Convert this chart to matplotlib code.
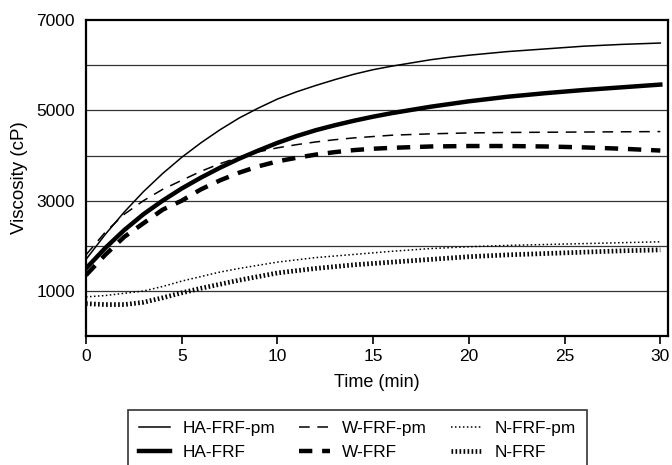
import matplotlib
matplotlib.use("Agg")
from matplotlib import pyplot as plt

plt.rcParams['font.family'] = ['Liberation Sans', 'DejaVu Sans']

# time points (min)
t = [0, 1, 2, 3, 4, 5, 6, 7, 8, 9, 10, 11, 12, 13, 14, 15, 16, 17, 18, 19, 20,
     22, 24, 26, 28, 30]

# viscosity (cP)
ha_frf_pm = [1700, 2250, 2750, 3200, 3600, 3960, 4280, 4570, 4830, 5050, 5250,
             5410, 5550, 5680, 5800, 5900, 5980, 6050, 6120, 6175, 6220,
             6300, 6360, 6420, 6460, 6490]
ha_frf = [1500, 1950, 2350, 2700, 3000, 3270, 3510, 3730, 3930, 4110, 4280,
          4430, 4560, 4670, 4770, 4860, 4940, 5010, 5080, 5140, 5200,
          5300, 5380, 5450, 5510, 5570]
w_frf_pm = [1800, 2300, 2700, 3000, 3250, 3450, 3650, 3820, 3960, 4080, 4170,
            4240, 4300, 4350, 4390, 4420, 4450, 4465, 4480, 4490, 4500,
            4510, 4515, 4520, 4525, 4530]
w_frf = [1350, 1800, 2200, 2500, 2800, 3000, 3250, 3450, 3620, 3760, 3870,
         3950, 4020, 4075, 4120, 4150, 4170, 4185, 4200, 4205, 4210,
         4210, 4200, 4180, 4150, 4110]
n_frf_pm = [870, 900, 950, 1000, 1100, 1220, 1320, 1420, 1500, 1570, 1640,
            1690, 1740, 1775, 1810, 1845, 1880, 1910, 1940, 1960, 1980,
            2010, 2030, 2050, 2070, 2090]
n_frf = [720, 700, 700, 750, 850, 960, 1060, 1150, 1240, 1320, 1400,
         1450, 1500, 1540, 1580, 1610, 1640, 1670, 1700, 1730, 1760,
         1800, 1830, 1860, 1890, 1910]

fig = plt.figure(figsize=(6.72, 4.65), dpi=100)
ax = fig.add_axes([0.128, 0.277, 0.866, 0.68])

for y in range(1000, 7000, 1000):
    ax.axhline(y, color='#333333', lw=0.9, zorder=1)

ax.plot(t, ha_frf_pm, color='k', lw=1.1, label='HA-FRF-pm')
ax.plot(t, ha_frf, color='k', lw=3.2, label='HA-FRF')
ax.plot(t, w_frf_pm, color='k', lw=1.1, linestyle=(0, (7, 5)), label='W-FRF-pm')
ax.plot(t, w_frf, color='k', lw=3.2, linestyle=(0, (3, 2.2)), label='W-FRF')
ax.plot(t, n_frf_pm, color='k', lw=1.1, linestyle=(0, (1, 1.6)), label='N-FRF-pm')
ax.plot(t, n_frf, color='k', lw=3.4, linestyle=(0, (0.35, 0.5)), label='N-FRF')

ax.set_xlim(0, 30.4)
ax.set_ylim(0, 7000)
ax.set_xticks([0, 5, 10, 15, 20, 25, 30])
ax.set_yticks([1000, 3000, 5000, 7000])
ax.tick_params(axis='y', length=0, labelsize=12.5, pad=8)
ax.tick_params(axis='x', length=6, width=1.2, labelsize=12.5, direction='out')
for s in ax.spines.values():
    s.set_linewidth(1.6)
ax.set_xlabel('Time (min)', fontsize=13, labelpad=7)
ax.set_ylabel('Viscosity (cP)', fontsize=13.5, labelpad=6)

leg = fig.legend(ncol=3, loc='upper left', bbox_to_anchor=(128/672, 1 - 410/465),
                 borderaxespad=0, fontsize=12.4, frameon=True, fancybox=False,
                 edgecolor='k', handlelength=1.8, handletextpad=0.7,
                 columnspacing=1.4, borderpad=0.66, labelspacing=0.48)
leg.get_frame().set_linewidth(1.2)

plt.savefig('out.png', dpi=100)
